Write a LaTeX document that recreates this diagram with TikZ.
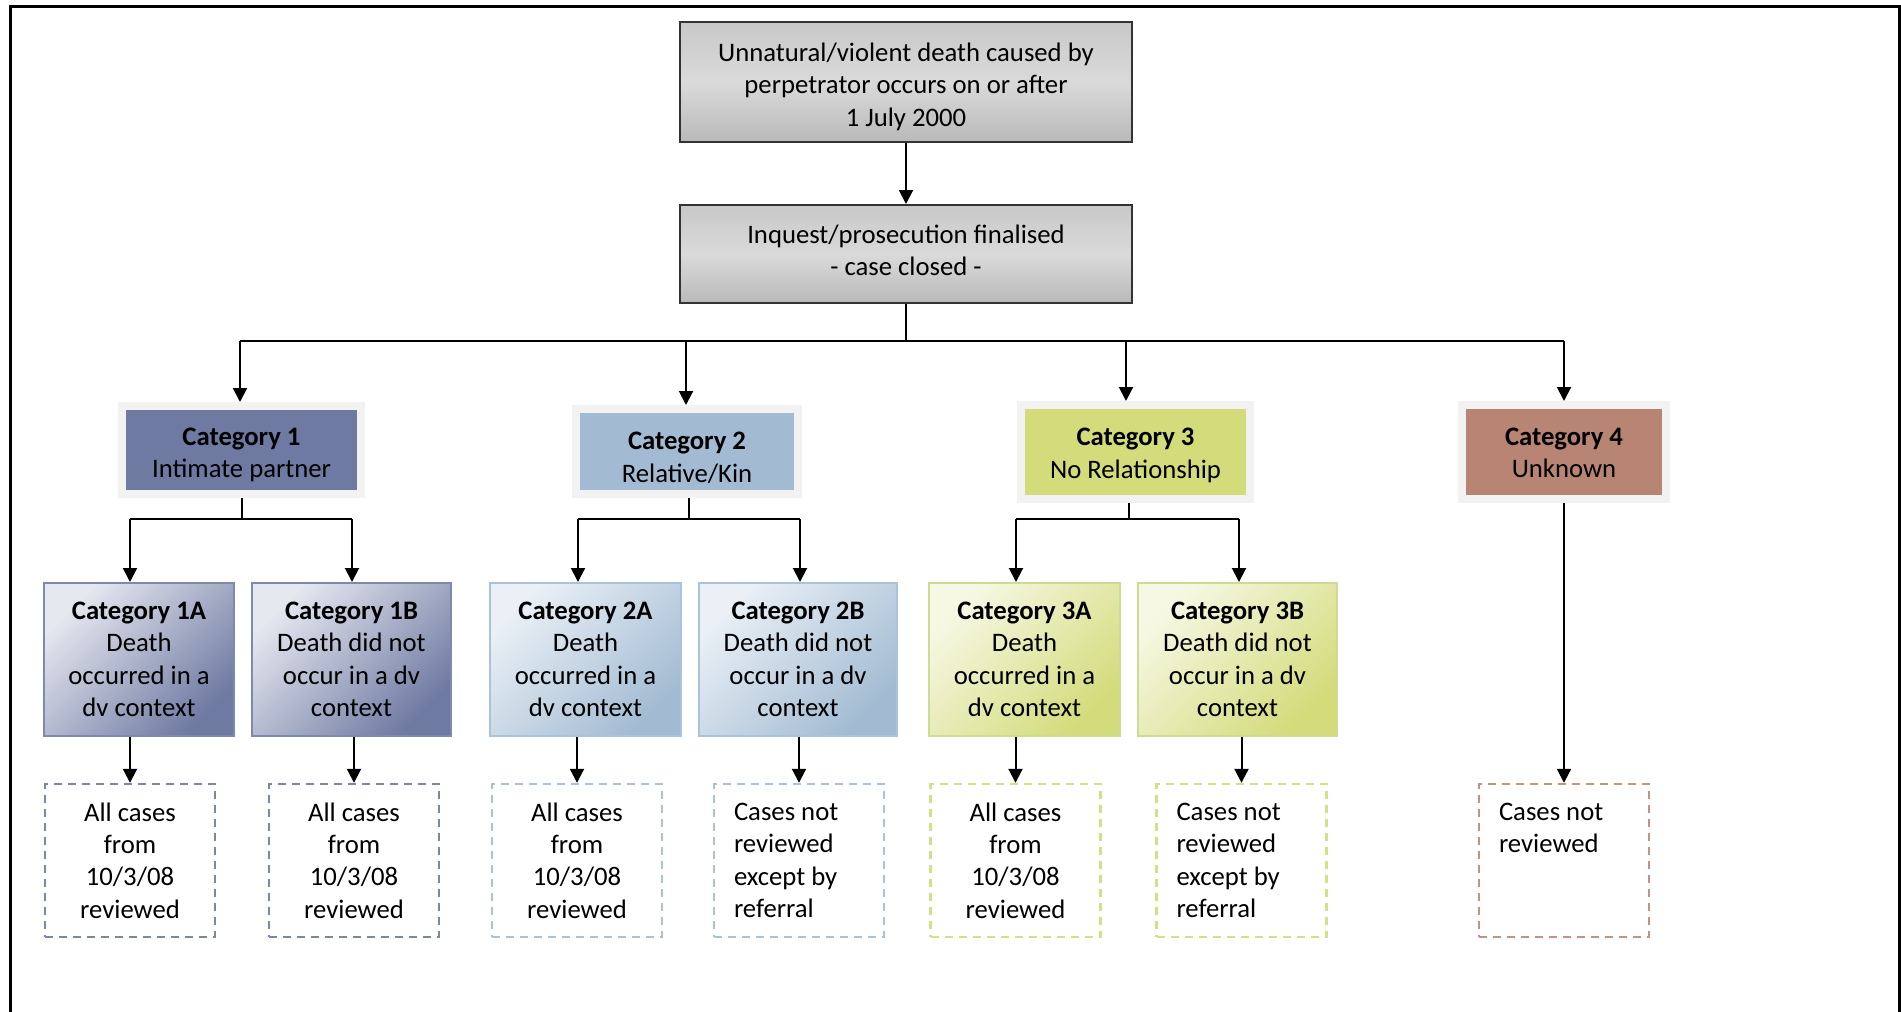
\documentclass[tikz,border=0pt]{standalone}
\usepackage{fontspec}
\setmainfont{Carlito}
\usetikzlibrary{arrows.meta,shadings}
\definecolor{cA}{HTML}{6F7AA2}
\definecolor{cB}{HTML}{A2BBD2}
\definecolor{cC}{HTML}{D4DB7A}
\definecolor{cD}{HTML}{B88473}
\definecolor{frm}{HTML}{F2F2F2}
\definecolor{cAl}{HTML}{E6E8F0}
\definecolor{cBl}{HTML}{EAF0F6}
\definecolor{cCl}{HTML}{F6F8E4}
\definecolor{cAe}{HTML}{7F89AF}
\definecolor{cBe}{HTML}{A9C3DA}
\definecolor{cCe}{HTML}{CDDC93}
\definecolor{dA}{HTML}{7C86AC}
\definecolor{dB}{HTML}{AAC1D8}
\definecolor{dC}{HTML}{D7DF86}
\definecolor{dD}{HTML}{C49483}
\definecolor{gT}{HTML}{C8C8C8}
\definecolor{gM}{HTML}{DADADA}
\definecolor{gB}{HTML}{B9B9B9}
\begin{document}
\begin{tikzpicture}[x=0.5pt,y=-0.5pt,
  base/.style={font=\fontsize{13.35pt}{16.2pt}\selectfont, align=center, inner sep=0pt, text=black},
  topbox/.style={base, draw=black!80, line width=1pt, top color=gT, bottom color=gB, middle color=gM, minimum width=226pt},
  catbox/.style={base, draw=frm, line width=4pt},
  subbox/.style={base, line width=1pt, minimum height=76.5pt, shading angle=45},
  subA/.style={subbox, draw=cAe, top color=cAl, bottom color=cA, shading angle=45},
  subB/.style={subbox, draw=cBe, top color=cBl, bottom color=cB, shading angle=45},
  subC/.style={subbox, draw=cCe, top color=cCl, bottom color=cC, shading angle=45},
  dbox/.style={base, line width=1.2pt, dash pattern=on 4pt off 3pt, minimum width=85pt, minimum height=76.5pt},
  leftbox/.style={align=flush left, text width=65pt, inner xsep=10pt},
  arr/.style={-{Triangle[width=7pt,length=7pt]}, line width=1pt},
  ln/.style={line width=1pt}
]
\useasboundingbox (0,0) rectangle (1901,1012);
% frame (open at bottom)
\draw[line width=1.5pt] (10,1012) -- (10,6) -- (1899,6) -- (1899,1012);

% top boxes
\node[topbox, minimum height=60pt] (top) at (906,82) {\rule{0pt}{14pt}Unnatural/violent death caused by\\perpetrator occurs on or after\\1 July 2000};
\node[topbox, minimum height=49pt] (inq) at (906,254) {Inquest/prosecution finalised\\- case closed -\rule[-3.6pt]{0pt}{0pt}};

% categories
\node[catbox, fill=cA, minimum width=119.5pt, minimum height=44pt] (cat1) at (241.5,450) {\rule{0pt}{13.4pt}\textbf{Category 1}\\Intimate partner};
\node[catbox, fill=cB, minimum width=111pt, minimum height=42.5pt] (cat2) at (687,451.5) {\rule{0pt}{15.2pt}\textbf{Category 2}\\Relative/Kin};
\node[catbox, fill=cC, minimum width=114.5pt, minimum height=47pt] (cat3) at (1135.5,452) {\rule{0pt}{12.2pt}\textbf{Category 3}\\No Relationship};
\node[catbox, fill=cD, minimum width=102pt, minimum height=47pt] (cat4) at (1564,452) {\rule{0pt}{9.8pt}\textbf{Category 4}\\Unknown};

% sub categories
\node[subA, minimum width=95pt] (c1a) at (139,659.5) {\textbf{Category 1A}\\Death\\occurred in a\\dv context};
\node[subA, minimum width=99.5pt] (c1b) at (351.5,659.5) {\textbf{Category 1B}\\Death did not\\occur in a dv\\context};
\node[subB, minimum width=95.5pt] (c2a) at (585.5,659.5) {\textbf{Category 2A}\\Death\\occurred in a\\dv context};
\node[subB, minimum width=99pt] (c2b) at (798,659.5) {\textbf{Category 2B}\\Death did not\\occur in a dv\\context};
\node[subC, minimum width=95.5pt] (c3a) at (1024.5,659.5) {\textbf{Category 3A}\\Death\\occurred in a\\dv context};
\node[subC, minimum width=99.5pt] (c3b) at (1237.5,659.5) {\textbf{Category 3B}\\Death did not\\occur in a dv\\context};

% outcome boxes
\node[dbox, draw=dA] (d1) at (130,860.5) {All cases\\from\\10/3/08\\reviewed};
\node[dbox, draw=dA] (d2) at (354,860.5) {All cases\\from\\10/3/08\\reviewed};
\node[dbox, draw=dB] (d3) at (577,860.5) {All cases\\from\\10/3/08\\reviewed};
\node[dbox, draw=dB, leftbox] (d4) at (799,860.5) {Cases not\\reviewed\\except by\\referral};
\node[dbox, draw=dC] (d5) at (1015.5,860.5) {All cases\\from\\10/3/08\\reviewed};
\node[dbox, draw=dC, leftbox] (d6) at (1241.5,860.5) {Cases not\\reviewed\\except by\\referral};
\node[dbox, draw=dD, leftbox] (d7) at (1564,860.5) {Cases not\\reviewed\\~\\~};

% connectors: top level
\draw[arr] (top.south) -- (inq.north);
\coordinate (b1) at (240,341);
\coordinate (b2) at (686,341);
\coordinate (b3) at (1126,341);
\coordinate (b4) at (1564,341);
\draw[ln] (inq.south) -- (inq.south |- b1);
\draw[ln] (b1) -- (b4);
\draw[arr] (b1) -- (b1 |- cat1.north);
\draw[arr] (b2) -- (b2 |- cat2.north);
\draw[arr] (b3) -- (b3 |- cat3.north);
\draw[arr] (b4) -- (cat4.north);

% category splits
\coordinate (j1) at (242,519);
\coordinate (s1l) at (130,519);
\coordinate (s1r) at (352,519);
\draw[ln] (j1 |- cat1.south) -- (j1);
\draw[ln] (s1l) -- (s1r);
\draw[arr] (s1l) -- (s1l |- c1a.north);
\draw[arr] (s1r) -- (s1r |- c1b.north);

\coordinate (j2) at (689,519);
\coordinate (s2l) at (578,519);
\coordinate (s2r) at (800,519);
\draw[ln] (j2 |- cat2.south) -- (j2);
\draw[ln] (s2l) -- (s2r);
\draw[arr] (s2l) -- (s2l |- c2a.north);
\draw[arr] (s2r) -- (s2r |- c2b.north);

\coordinate (j3) at (1129,519);
\coordinate (s3l) at (1016,519);
\coordinate (s3r) at (1239,519);
\draw[ln] (j3 |- cat3.south) -- (j3);
\draw[ln] (s3l) -- (s3r);
\draw[arr] (s3l) -- (s3l |- c3a.north);
\draw[arr] (s3r) -- (s3r |- c3b.north);

% to outcomes
\draw[arr] (d1.north |- c1a.south) -- (d1.north);
\draw[arr] (d2.north |- c1b.south) -- (d2.north);
\draw[arr] (d3.north |- c2a.south) -- (d3.north);
\draw[arr] (d4.north |- c2b.south) -- (d4.north);
\draw[arr] (d5.north |- c3a.south) -- (d5.north);
\draw[arr] (d6.north |- c3b.south) -- (d6.north);
\draw[arr] (cat4.south) -- (d7.north);
\end{tikzpicture}
\end{document}
